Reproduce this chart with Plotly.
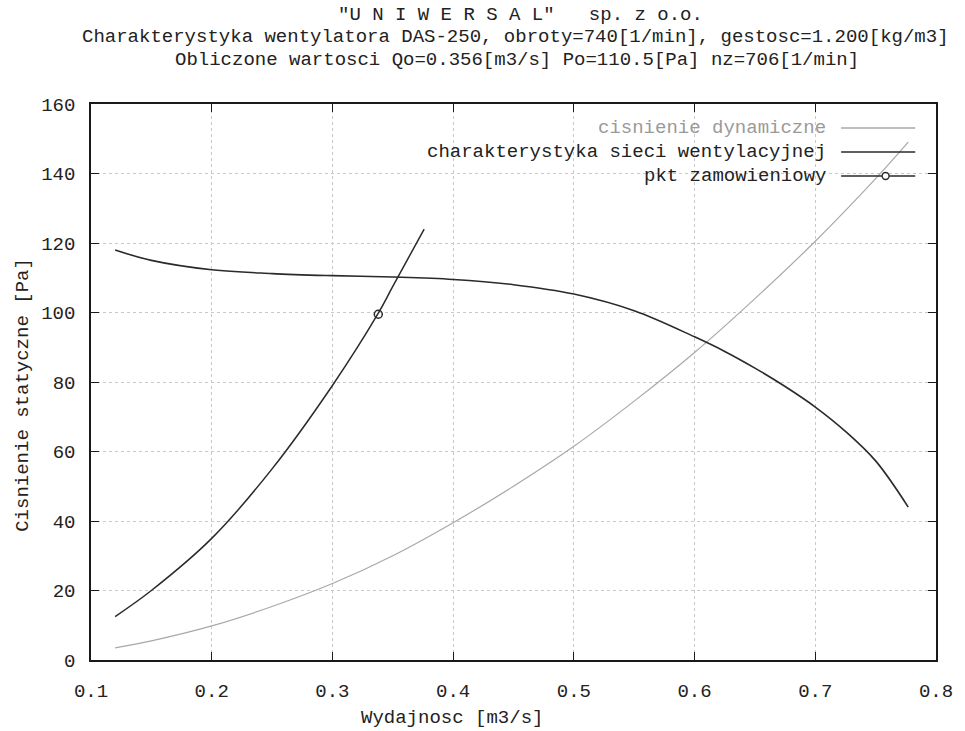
import plotly.graph_objects as go

# ---- data ----
q_fan = [0.12, 0.15, 0.20, 0.25, 0.30, 0.35, 0.40, 0.45, 0.50, 0.55, 0.60, 0.625, 0.65, 0.675, 0.70, 0.725, 0.75, 0.777]
p_fan = [118, 115, 112.3, 111.2, 110.6, 110.2, 109.5, 108, 105.3, 100.5, 93, 88.8, 84, 78.7, 72.8, 65.8, 57.3, 44]

q_dyn = [0.12, 0.15, 0.20, 0.25, 0.30, 0.35, 0.40, 0.45, 0.50, 0.55, 0.60, 0.65, 0.70, 0.75, 0.777]
p_dyn = [3.5, 5.5, 9.8, 15.4, 22, 30, 39.5, 50, 61.5, 74.5, 88.5, 104, 120.5, 138.5, 149]

q_net = [0.12, 0.15, 0.20, 0.25, 0.30, 0.3375, 0.35, 0.376]
p_net = [12.5, 20, 35, 55, 79, 99.5, 107.5, 124]

q_pt = [0.338]
p_pt = [99.5]

legend_labels = ["cisnienie dynamiczne", "charakterystyka sieci wentylacyjnej", "pkt zamowieniowy"]
title_lines = ['"U N I W E R S A L"   sp. z o.o.',
               'Charakterystyka wentylatora DAS-250, obroty=740[1/min], gestosc=1.200[kg/m3]',
               'Obliczone wartosci Qo=0.356[m3/s] Po=110.5[Pa] nz=706[1/min]']
x_title = "Wydajnosc [m3/s]"
y_title = "Cisnienie statyczne [Pa]"
x_ticks = [0.1, 0.2, 0.3, 0.4, 0.5, 0.6, 0.7, 0.8]
y_ticks = [0, 20, 40, 60, 80, 100, 120, 140, 160]

FONT = "Liberation Mono, DejaVu Sans Mono, monospace"
TXT = "#222222"
DARK = "#2a2a2a"
GRAY = "#a8a8a8"

fig = go.Figure()
fig.add_trace(go.Scatter(x=q_dyn, y=p_dyn, mode="lines", line=dict(color=GRAY, width=1.2, shape="spline"),
                         name=legend_labels[0], showlegend=False))
fig.add_trace(go.Scatter(x=q_fan, y=p_fan, mode="lines", line=dict(color=DARK, width=1.6, shape="spline", smoothing=1.0),
                         showlegend=False))
fig.add_trace(go.Scatter(x=q_net, y=p_net, mode="lines", line=dict(color=DARK, width=1.5, shape="spline"),
                         name=legend_labels[1], showlegend=False))
fig.add_trace(go.Scatter(x=q_pt, y=p_pt, mode="markers",
                         marker=dict(symbol="circle-open", size=8, color=DARK, line=dict(width=1.5)),
                         name=legend_labels[2], showlegend=False))

# titles
ann = []
title_y = [15, 37, 60]
title_x = [526, 521, 522]
for t, yy, xx in zip(title_lines, title_y, title_x):
    ann.append(dict(text=t, xref="paper", yref="paper",
                    x=(xx - 91) / 855, y=(660 - yy) / 556, xanchor="center", yanchor="middle",
                    showarrow=False, font=dict(family=FONT, size=19, color=TXT)))
# axis titles
ann.append(dict(text=x_title, xref="paper", yref="paper", x=(456 - 91) / 855, y=(660 - 718) / 556,
                xanchor="center", yanchor="middle", showarrow=False,
                font=dict(family=FONT, size=19, color=TXT)))
ann.append(dict(text=y_title, xref="paper", yref="paper", x=(22 - 91) / 855, y=(660 - 395) / 556,
                xanchor="center", yanchor="middle", textangle=-90, showarrow=False,
                font=dict(family=FONT, size=19, color=TXT)))

# legend (gnuplot style: text right-aligned, sample on the right)
leg_rows = [128, 152, 176]
leg_colors = [GRAY, DARK, DARK]
leg_text_colors = ["#9a9a9a", TXT, TXT]
shapes = []
for lab, yy, c, tc in zip(legend_labels, leg_rows, leg_colors, leg_text_colors):
    yp = (660 - yy) / 556
    ann.append(dict(text=lab, xref="paper", yref="paper", x=(837 - 91) / 855, y=yp,
                    xanchor="right", yanchor="middle", showarrow=False,
                    font=dict(family=FONT, size=19, color=tc)))
    shapes.append(dict(type="line", xref="paper", yref="paper",
                       x0=(850 - 91) / 855, x1=(925 - 91) / 855, y0=yp, y1=yp,
                       line=dict(color=c, width=1.4)))
yp3 = (660 - leg_rows[2]) / 556
cx = (895 - 91) / 855
shapes.append(dict(type="circle", xref="paper", yref="paper",
                   x0=cx - 3.5 / 855, x1=cx + 3.5 / 855, y0=yp3 - 3.5 / 556, y1=yp3 + 3.5 / 556,
                   line=dict(color=DARK, width=1.4), fillcolor="white"))

axis_common = dict(showline=True, linecolor="#1a1a1a", linewidth=1.5, mirror="allticks",
                   ticks="inside", ticklen=8, tickcolor="#1a1a1a", tickwidth=1.2,
                   showgrid=True, gridcolor="#c8c8c8", griddash="dot", gridwidth=1,
                   zeroline=False, tickfont=dict(family=FONT, size=19, color=TXT))

fig.update_layout(
    width=965, height=731,
    margin=dict(l=91, r=19, t=104, b=71),
    paper_bgcolor="white", plot_bgcolor="white",
    showlegend=False,
    annotations=ann, shapes=shapes,
    xaxis=dict(range=[0.1, 0.8], tickvals=x_ticks, tickformat=".1f", ticklabelstandoff=12, **axis_common),
    yaxis=dict(range=[0, 160], tickvals=y_ticks, ticklabelstandoff=10, **axis_common),
)

fig.write_html("out.html")
